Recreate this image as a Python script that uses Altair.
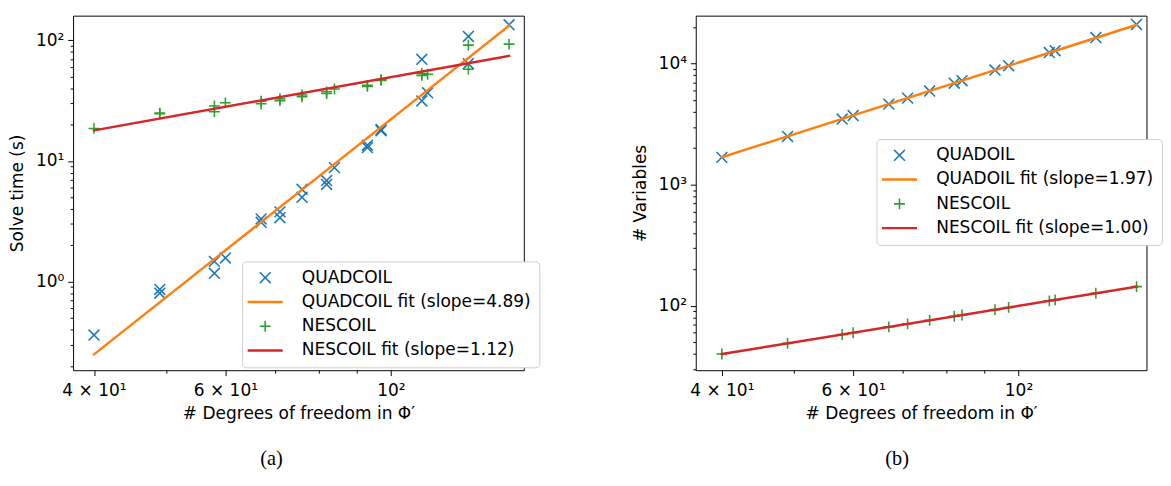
import altair as alt
import pandas as pd

# ---------------- data ----------------
dof_cases = [40, 49, 49, 58, 58, 60, 67, 67, 71, 71, 76, 76, 82, 82, 84,
             93, 93, 97, 97, 110, 110, 112, 127, 127, 144]
solve_time_quadcoil = [0.36, 0.86, 0.80, 1.47, 1.17, 1.57, 3.30, 3.10, 3.78, 3.38,
                       5.82, 4.99, 6.87, 6.38, 8.8, 13.5, 12.9, 18.2, 17.8,
                       69.5, 31.4, 36.7, 107.7, 64.0, 134.5]
solve_time_nescoil = [18.6, 24.9, 24.6, 28.5, 25.6, 30.3, 31.2, 29.8, 32.8, 31.6,
                      35.2, 34.0, 37.4, 36.2, 39.5, 42.3, 41.5, 47.2, 46.5,
                      53.0, 51.2, 52.3, 91.2, 57.6, 92.9]

dof_unique = [40, 49, 58, 60, 67, 71, 76, 82, 84, 93, 97, 110, 112, 127, 144]
n_vars_quadoil = [1681, 2500, 3481, 3721, 4624, 5184, 5929, 6889, 7225,
                  8836, 9604, 12321, 12769, 16384, 21025]
n_vars_nescoil = [40, 49, 58, 60, 67, 71, 76, 82, 84, 93, 97, 110, 112, 127, 144]

fit_dof = [40, 144]
fit_time_quadcoil = [0.249, 132.0]
fit_time_nescoil = [17.9, 74.3]
fit_vars_quadoil = [1685, 20850]
fit_vars_nescoil = [40.0, 144.0]

labels_a = ["QUADCOIL", "QUADCOIL fit (slope=4.89)", "NESCOIL", "NESCOIL fit (slope=1.12)"]
labels_b = ["QUADOIL", "QUADOIL fit (slope=1.97)", "NESCOIL", "NESCOIL fit (slope=1.00)"]
colors = ["#1f77b4", "#ff7f0e", "#2ca02c", "#d62728"]

x_ticks = [40, 50, 60, 70, 80, 90, 100]
x_major = [40, 60, 100]
x_major_labels = ["4 × 10¹", "6 × 10¹", "10²"]

ya_ticks = [0.2, 0.3, 0.4, 0.5, 0.6, 0.7, 0.8, 0.9, 1, 2, 3, 4, 5, 6, 7, 8, 9,
            10, 20, 30, 40, 50, 60, 70, 80, 90, 100]
ya_major = [1, 10, 100]
ya_major_labels = ["10⁰", "10¹", "10²"]

yb_ticks = [30, 40, 50, 60, 70, 80, 90, 100, 200, 300, 400, 500, 600, 700, 800, 900,
            1000, 2000, 3000, 4000, 5000, 6000, 7000, 8000, 9000, 10000, 20000]
yb_major = [100, 1000, 10000]
yb_major_labels = ["10²", "10³", "10⁴"]

X_PATH = "M-1,-1L1,1M1,-1L-1,1"
PLUS_PATH = "M-1,0L1,0M0,-1L0,1"
FONT = "DejaVu Sans"
FS = 17.5


def label_expr(values, texts):
    parts = [f"datum.value == {v} ? '{t}'" for v, t in zip(values, texts)]
    return " : ".join(parts) + " : ''"


def tick_expr(values, major, minor):
    return f"indexof({list(values)}, datum.value) >= 0 ? {major} : {minor}"


def panel(px, py, fx, fy_a, fy_b, labels, x_domain, y_title, y_domain, y_ticks, y_major,
          y_labels, leg_x, leg_y, width, caption, cap_dx):
    pts = pd.DataFrame({
        "dof": list(px) + list(px),
        "value": list(py[0]) + list(py[1]),
        "series": [labels[0]] * len(px) + [labels[2]] * len(px),
    })
    fits = pd.DataFrame({
        "dof": list(fx) + list(fx),
        "value": list(fy_a) + list(fy_b),
        "series": [labels[1]] * len(fx) + [labels[3]] * len(fx),
    })
    fit_names = [labels[1], labels[3]]
    is_fit = f"indexof({fit_names}, datum.value) >= 0"
    legend = alt.Legend(
        title=None, orient="none", legendX=leg_x, legendY=leg_y,
        labelFont=FONT, labelFontSize=FS, labelColor="black",
        symbolOffset=7, labelOffset=29,
        labelLimit=500, padding=8, rowPadding=6, fillColor="white",
        strokeColor="#cccccc", cornerRadius=4, symbolOpacity=1,
        symbolSize={"expr": f"{is_fit} ? 1300 : 125"},
        symbolStrokeWidth={"expr": f"{is_fit} ? 2.5 : 1.6"},
    )
    xenc = alt.X(
        "dof:Q",
        scale=alt.Scale(type="log", domain=x_domain, nice=False, zero=False),
        axis=alt.Axis(values=x_ticks, labelExpr=label_expr(x_major, x_major_labels),
                      tickSize={"expr": tick_expr(x_major, 5.5, 3)},
                      labelOverlap=False, labelPadding=7, titlePadding=6,
                      title="# Degrees of freedom in Φ′"),
    )
    yenc = alt.Y(
        "value:Q",
        scale=alt.Scale(type="log", domain=y_domain, nice=False, zero=False),
        axis=alt.Axis(values=y_ticks, labelExpr=label_expr(y_major, y_labels),
                      tickSize={"expr": tick_expr(y_major, 5.5, 3)},
                      labelOverlap=False, labelPadding=4, titlePadding=9,
                      title=y_title),
    )
    color = alt.Color("series:N", scale=alt.Scale(domain=labels, range=colors), legend=legend)
    shape = alt.Shape("series:N", scale=alt.Scale(domain=labels,
                                                  range=[X_PATH, "stroke", PLUS_PATH, "stroke"]),
                      legend=legend)

    lines = alt.Chart(fits).mark_line(strokeWidth=2.5, strokeCap="square").encode(
        x=xenc, y=yenc, color=color)
    points = alt.Chart(pts).mark_point(filled=False, opacity=1, size=125,
                                       strokeWidth=1.6).encode(
        x=xenc, y=yenc, color=color, shape=shape)
    return alt.layer(points, lines).properties(
        width=width, height=365,
        title=alt.TitleParams(caption, orient="bottom", font="Liberation Serif",
                              fontSize=21, fontWeight="normal", color="black",
                              offset=27, anchor="middle", frame="bounds", dx=cap_dx),
    )


left = panel(dof_cases, (solve_time_quadcoil, solve_time_nescoil), fit_dof,
             fit_time_quadcoil, fit_time_nescoil, labels_a, [37.5, 150.7], "Solve time (s)",
             [0.184, 160.0], ya_ticks, ya_major, ya_major_labels, 174, 253, 464, "(a)", -3)
right = panel(dof_unique, (n_vars_quadoil, n_vars_nescoil), fit_dof, fit_vars_quadoil,
              fit_vars_nescoil, labels_b, [36.9, 148.5], "# Variables", [29.4, 24850.0],
              yb_ticks, yb_major, yb_major_labels, 186, 127, 464, "(b)", 0)

chart = alt.hconcat(left, right, spacing=93).resolve_scale(
    x="independent", y="independent", color="independent", shape="independent",
).resolve_legend(
    color="independent", shape="independent",
).properties(
    padding={"left": 0, "top": 0, "right": 0, "bottom": 0},
).configure_view(
    stroke="black", strokeWidth=1,
).configure_axis(
    domain=False, grid=False, labelFont=FONT, labelFontSize=FS, labelColor="black",
    tickColor="black", tickWidth=1, titleFont=FONT, titleFontSize=FS,
    titleFontWeight="normal", titleColor="black",
)

chart.save("out.html", embed_options={"renderer": "svg", "actions": False})
